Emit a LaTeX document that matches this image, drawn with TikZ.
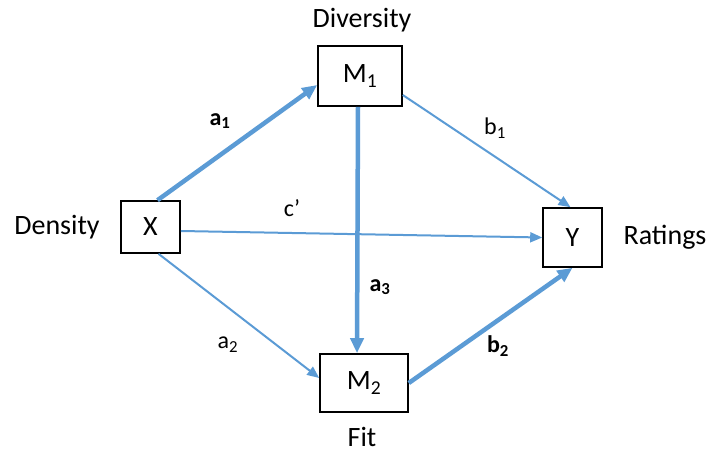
\documentclass[tikz,border=0pt]{standalone}
\usepackage{fontspec}
\setmainfont{Carlito}
\usepackage{xcolor}
\usetikzlibrary{arrows.meta,positioning,calc}
\definecolor{pathblue}{HTML}{5B9BD5}

\begin{document}
\begin{tikzpicture}[
  x=1pt,y=-1pt,
  font=\fontsize{28}{30}\selectfont,
  var/.style={draw,line width=1.6pt,inner sep=0pt,align=center},
  vtitle/.style={inner sep=0pt},
  lab/.style={inner sep=0pt,font=\fontsize{24}{26}\selectfont},
  blab/.style={lab,font=\fontsize{24}{26}\selectfont\bfseries},
  tarr/.style={pathblue,line width=2pt,-{Triangle[length=12pt,width=10pt]}},
  barr/.style={pathblue,line width=4.5pt,-{Triangle[length=15pt,width=13pt]}}
]
\useasboundingbox (0,0) rectangle (710,455);
\node[var,minimum width=84pt,minimum height=60pt] (m1) at (360,76) {M\textsubscript{1}};
\node[var,minimum width=88pt,minimum height=58pt] (m2) at (364,383) {M\textsubscript{2}};
\node[var,minimum width=59pt,minimum height=52pt] (x) at (150.5,227) {X};
\node[var,minimum width=59pt,minimum height=59pt] (y) at (572.5,237.5) {Y};
\node[vtitle] (div) at (362,20) {Diversity};
\node[vtitle] (den) at (57,227) {Density};
\node[vtitle] (rat) at (665,237) {Ratings};
\node[vtitle] (fit) at (362,437) {Fit};
% paths
\draw[barr] ([xshift=7pt]x.north) -- ([yshift=-9pt]m1.west);
\draw[tarr] ([xshift=8pt]x.south) -- ([yshift=5pt]m2.west);
\draw[tarr] ([yshift=-4pt]x.east) -- (y.west);
\draw[tarr] ([yshift=-19pt]m1.east) -- ([xshift=-2pt]y.north);
\draw[barr] ([xshift=-2pt]m1.south) -- ([xshift=-7pt]m2.north);
\draw[barr] (m2.east) -- (y.south);
% coefficients
\node[blab] (la1) at (220,121) {a\textsubscript{1}};
\node[lab] (lb1) at (495,128) {b\textsubscript{1}};
\node[lab] (lc) at (292,208) {c’};
\node[lab] (la2) at (228,345) {a\textsubscript{2}};
\node[blab] (la3) at (380,287) {a\textsubscript{3}};
\node[blab] (lb2) at (498,346) {b\textsubscript{2}};
\end{tikzpicture}
\end{document}
